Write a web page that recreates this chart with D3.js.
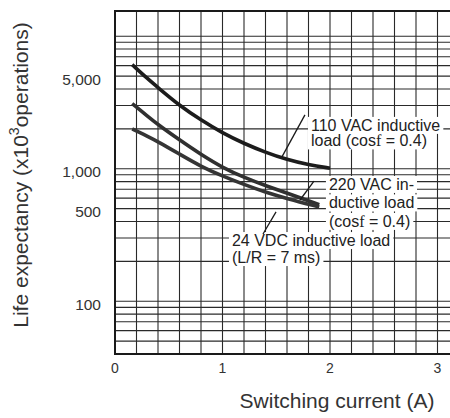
<!DOCTYPE html>
<html>
<head>
<meta charset="utf-8">
<script src="https://cdn.jsdelivr.net/npm/d3@7"></script>
<style>
  body { margin: 0; background: #fff; }
  text { font-family: "Liberation Sans", Arial, Helvetica, sans-serif; fill: #222; }
</style>
</head>
<body>
<svg id="chart" width="450" height="418"></svg>
<script>
// Switching current (A) vs life expectancy (x10^3 operations)
const currentTicks = [0, 1, 2, 3];
const lifeTicks = [100, 500, 1000, 5000];
const lifeTickLabels = ["100", "500", "1,000", "5,000"];

// log-paper grid
const gridCurrent = [0.2, 0.4, 0.6, 0.8, 1.0, 1.2, 1.4, 1.6, 1.8, 2.0, 2.2, 2.4, 2.6, 2.8, 3.0, 3.2];
const gridLife = [50, 60, 70, 80, 90, 100, 200, 300, 400, 500, 600, 700, 800, 900,
                  1000, 2000, 3000, 4000, 5000, 6000, 7000, 8000, 9000, 10000];

// 110 VAC inductive load (cos phi = 0.4)
const current110 = [0.16, 0.3, 0.4, 0.6, 0.8, 1.0, 1.2, 1.4, 1.6, 1.8, 2.0];
const life110    = [6100, 4800, 4100, 3000, 2330, 1860, 1550, 1330, 1170, 1070, 1010];
// 220 VAC inductive load (cos phi = 0.4)
const current220 = [0.16, 0.3, 0.4, 0.6, 0.8, 1.0, 1.2, 1.4, 1.6, 1.9];
const life220    = [3100, 2500, 2150, 1650, 1280, 1020, 860, 745, 655, 535];
// 24 VDC inductive load (L/R = 7 ms)
const current24 = [0.16, 0.3, 0.4, 0.6, 0.8, 1.0, 1.2, 1.4, 1.6, 1.9];
const life24    = [2000, 1760, 1600, 1290, 1040, 880, 760, 665, 595, 515];

// annotation text, anchored in data units
const labelLines110 = ["110 VAC inductive", "load (cos|f| = 0.4)"];
const labelLines220 = ["220 VAC in-", "ductive load", "(cos|f| = 0.4)"];
const labelLines24  = ["24 VDC inductive load", "(L/R = 7 ms)"];
const labelAnchors = [
  { lines: labelLines110, at: [1.823, 1930], step: 15.5 },
  { lines: labelLines220, at: [1.99, 692], step: 18.5 },
  { lines: labelLines24,  at: [1.088, 261], step: 17 }
];
// leader lines: from label to curve, data units
const leaders = [
  [[1.767, 2547], [1.553, 1228]],
  [[1.851, 808], [1.721, 581]],
  [[1.498, 472], [1.377, 322]]
];

const svg = d3.select("#chart");
const x = d3.scaleLinear().domain([0, 3]).range([115, 437.5]);
const y = d3.scaleLog().domain([40, 15500]).range([354, 11]);
const xEnd = 452;

// grid
const grid = svg.append("g").attr("stroke", "#2a2a2a").attr("stroke-width", 1.1);
grid.selectAll("line.v").data(gridCurrent).join("line")
  .attr("class", "v")
  .attr("x1", d => x(d)).attr("x2", d => x(d))
  .attr("y1", y.range()[1]).attr("y2", y.range()[0]);
grid.selectAll("line.h").data(gridLife).join("line")
  .attr("class", "h")
  .attr("x1", x(0)).attr("x2", xEnd)
  .attr("y1", d => y(d)).attr("y2", d => y(d));

// frame: left, top, bottom
svg.append("path")
  .attr("fill", "none").attr("stroke", "#1a1a1a").attr("stroke-width", 2)
  .attr("d", `M${xEnd},${y.range()[1]}H${x(0)}V${y.range()[0]}H${xEnd}`);

// curves
const line = d3.line().x(d => x(d[0])).y(d => y(d[1])).curve(d3.curveBasis);
const series = [
  { xs: current110, ys: life110, color: "#1c1c1c" },
  { xs: current220, ys: life220, color: "#303030" },
  { xs: current24,  ys: life24,  color: "#353535" }
];
svg.append("g").selectAll("path").data(series).join("path")
  .attr("fill", "none")
  .attr("stroke", d => d.color)
  .attr("stroke-width", 3.6)
  .attr("d", d => line(d.xs.map((v, i) => [v, d.ys[i]])));

// annotations with white backing
const bg = svg.append("g");
const ann = svg.append("g");
labelAnchors.forEach(a => {
  a.lines.forEach((t, i) => {
    const tx = ann.append("text")
      .attr("x", x(a.at[0]))
      .attr("y", y(a.at[1]) + i * a.step)
      .attr("font-size", 16);
    t.split("|").forEach((part, k) => {
      const span = tx.append("tspan").text(part);
      if (k === 1) span.style("font-family", "'Liberation Serif', 'Times New Roman', serif");
    });
    const b = tx.node().getBBox();
    bg.append("rect")
      .attr("x", b.x - 3).attr("y", b.y)
      .attr("width", b.width + 6).attr("height", b.height)
      .attr("fill", "#fff");
  });
});
svg.append("g").attr("stroke", "#1a1a1a").attr("stroke-width", 1.3)
  .selectAll("line").data(leaders).join("line")
  .attr("x1", d => x(d[0][0])).attr("y1", d => y(d[0][1]))
  .attr("x2", d => x(d[1][0])).attr("y2", d => y(d[1][1]));

// axis tick labels
svg.append("g").selectAll("text").data(currentTicks).join("text")
  .attr("x", d => x(d)).attr("y", 373)
  .attr("text-anchor", "middle")
  .attr("font-size", 14)
  .style("fill", "#333")
  .text(d => d);
svg.append("g").selectAll("text").data(lifeTicks).join("text")
  .attr("x", 101).attr("y", d => y(d) + 8.5)
  .attr("text-anchor", "end")
  .attr("font-size", 15.5)
  .style("fill", "#333")
  .text((d, i) => lifeTickLabels[i]);

// axis titles
svg.append("text")
  .attr("x", 337).attr("y", 408)
  .attr("text-anchor", "middle")
  .attr("font-size", 21)
  .style("fill", "#333")
  .text("Switching current (A)");
const yt = svg.append("text")
  .attr("transform", "translate(28,175) rotate(-90)")
  .attr("text-anchor", "middle")
  .attr("font-size", 21)
  .style("fill", "#333");
yt.append("tspan").text("Life expectancy (x10");
yt.append("tspan").attr("font-size", 14).attr("dy", -9).text("3");
yt.append("tspan").attr("dy", 9).text("operations)");
</script>
</body>
</html>
